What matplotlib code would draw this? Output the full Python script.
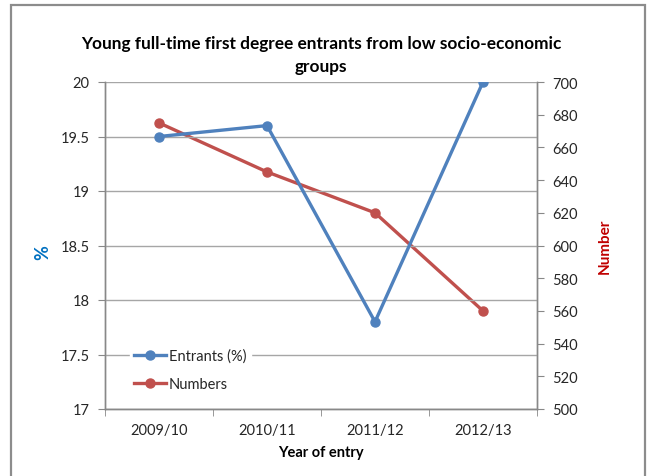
import matplotlib

matplotlib.use("Agg")
import matplotlib.pyplot as plt
from matplotlib.patches import Rectangle

plt.rcParams["font.family"] = ["Lato", "DejaVu Sans"]

years = ["2009/10", "2010/11", "2011/12", "2012/13"]
entrants_pct = [19.5, 19.6, 17.8, 20.0]
numbers = [675, 645, 620, 560]

BLUE = "#4F81BD"
RED = "#C0504D"
TEXT = "#262626"

fig = plt.figure(figsize=(6.49, 4.77), dpi=100)

# chart frame
fig.patches.append(Rectangle((11 / 649, -0.05), (645 - 11) / 649, 1.05 - 6 / 477,
                             transform=fig.transFigure, fill=False,
                             edgecolor="#8c8c8c", linewidth=1.6))

ax = fig.add_axes([105 / 649, 1 - 410 / 477, (537 - 105) / 649, (410 - 83) / 477])
ax2 = ax.twinx()

x = range(len(years))
l1, = ax.plot(x, entrants_pct, color=BLUE, linewidth=2.4, marker="o",
              markersize=6.5, label="Entrants (%)", zorder=3)
l2, = ax2.plot(x, numbers, color=RED, linewidth=2.4, marker="o",
               markersize=6.5, label="Numbers", zorder=3)

ax.set_xlim(-0.5, len(years) - 0.5)
ax.set_ylim(17, 20)
ax.set_yticks([17, 17.5, 18, 18.5, 19, 19.5, 20])
ax.set_yticklabels(["17", "17.5", "18", "18.5", "19", "19.5", "20"])
ax2.set_ylim(500, 700)
ax2.set_yticks(range(500, 701, 20))

ax.set_xticks(list(x))
ax.set_xticklabels(years)
ax.set_xticks([-0.5, 0.5, 1.5, 2.5, 3.5], minor=True)
ax.tick_params(axis="x", which="major", length=0, pad=10, labelsize=10.5, colors=TEXT)
ax.tick_params(axis="x", which="minor", length=5, direction="out", color="#888888")
ax.tick_params(axis="y", length=5, direction="out", color="#888888",
               labelsize=10.5, labelcolor=TEXT, pad=6)
ax2.tick_params(axis="y", length=5, direction="out", color="#888888",
                labelsize=10.5, labelcolor=TEXT, pad=6)

ax.grid(axis="y", color="#a6a6a6", linewidth=1.0)
ax.set_axisbelow(True)
for a in (ax, ax2):
    a.spines["top"].set_visible(False)
    for s in ("left", "right", "bottom"):
        a.spines[s].set_color("#888888")
        a.spines[s].set_linewidth(1.0)

ax.set_zorder(ax2.get_zorder() + 1)
ax.patch.set_visible(False)

ax.set_title("Young full-time first degree entrants from low socio-economic\ngroups",
             fontsize=12.4, fontweight="bold", color="black", pad=8, linespacing=1.5)
ax.set_xlabel("Year of entry", fontsize=10.5, fontweight="bold", color="black", labelpad=6)
ax.set_ylabel("%", fontsize=13, fontweight="bold", color="#0070C0")
ax.yaxis.set_label_coords(-0.125, 0.48)
ax2.set_ylabel("Number", fontsize=11, fontweight="bold", color="#C00000")
ax2.yaxis.set_label_coords(1.14, 0.5)

leg = ax.legend(handles=[l1, l2], loc="lower left", bbox_to_anchor=(0.04, 0.02),
                frameon=True, fontsize=10.5, handlelength=2.2, handletextpad=0.2,
                labelspacing=0.95, borderpad=0.3)
leg.get_frame().set_edgecolor("white")
leg.get_frame().set_facecolor("white")
leg.get_frame().set_alpha(1)
for t in leg.get_texts():
    t.set_color(TEXT)

fig.savefig("out.png", dpi=100)
plt.close(fig)
